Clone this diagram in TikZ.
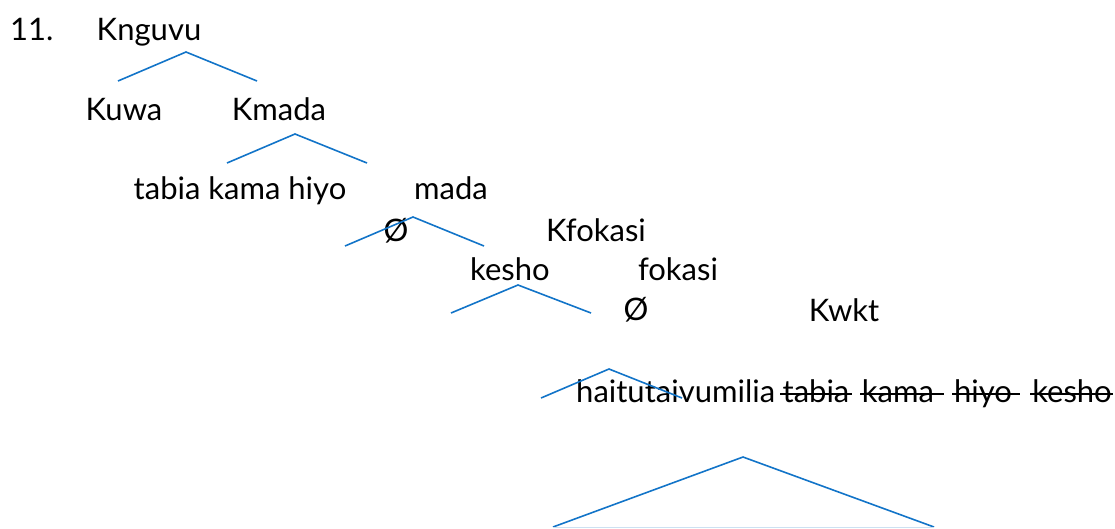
\documentclass[tikz,border=0pt]{standalone}
\usepackage{fontspec}
\setmainfont{Lato}
\definecolor{treeblue}{RGB}{18,116,200}
\definecolor{faintblue}{RGB}{205,225,242}
\begin{document}
\begin{tikzpicture}[x=1pt,y=-1pt,
  lbl/.style={inner sep=0pt,anchor=base,font=\fontsize{31}{35}\selectfont},
  branch/.style={draw=treeblue,line width=1.6pt,line join=miter},
  strike/.style={draw=black,line width=1.5pt}]
\useasboundingbox (0,0) rectangle (1115,528);
% labels
\node[lbl,anchor=base west] (num) at (10,40) {11.};
\node[lbl] (knguvu) at (149,40) {Knguvu};
\node[lbl] (kuwa) at (124,120) {Kuwa};
\node[lbl] (kmada) at (279,120) {Kmada};
\node[lbl] (tabia) at (240,199) {tabia kama hiyo};
\node[lbl] (mada) at (451,199) {mada};
\node[lbl] (null1) at (396,241) {Ø};
\node[lbl] (kfokasi) at (596,241) {Kfokasi};
\node[lbl] (kesho) at (510,280) {kesho};
\node[lbl] (fokasi) at (678,280) {fokasi};
\node[lbl] (null2) at (636,320) {Ø};
\node[lbl] (kwkt) at (844,321) {Kwkt};
\node[lbl,anchor=base west] (hai) at (576,402) {haitutaivumilia};
\node[lbl] (w1) at (816,402) {tabia};
\node[lbl] (w2) at (898,402) {kama};
\node[lbl] (w3) at (983,402) {hiyo};
\node[lbl] (w4) at (1072,402) {kesho};
% strike-through lines
\coordinate (s1a) at (780,394); \coordinate (s1b) at (852,394);
\coordinate (s2a) at (860,394); \coordinate (s2b) at (944,394);
\coordinate (s3a) at (952,394); \coordinate (s3b) at (1020,394);
\coordinate (s4a) at (1030,394); \coordinate (s4b) at (1113,394);
\draw[strike] (s1a) -- (s1b);
\draw[strike] (s2a) -- (s2b);
\draw[strike] (s3a) -- (s3b);
\draw[strike] (s4a) -- (s4b);
% branches
\coordinate (t1l) at (118,81); \coordinate (t1a) at (186,52); \coordinate (t1r) at (257,81);
\coordinate (t2l) at (227,163); \coordinate (t2a) at (295,134); \coordinate (t2r) at (367,163);
\coordinate (t3l) at (345,246); \coordinate (t3a) at (413,217); \coordinate (t3r) at (484,246);
\coordinate (t4l) at (451,313); \coordinate (t4a) at (518,285); \coordinate (t4r) at (591,313);
\coordinate (t5l) at (541,398); \coordinate (t5a) at (609,369); \coordinate (t5r) at (682,398);
\coordinate (t6l) at (553,527); \coordinate (t6a) at (743,457); \coordinate (t6r) at (934,527);
\draw[branch] (t1l) -- (t1a) -- (t1r);
\draw[branch] (t2l) -- (t2a) -- (t2r);
\draw[branch] (t3l) -- (t3a) -- (t3r);
\draw[branch] (t4l) -- (t4a) -- (t4r);
\draw[branch] (t5l) -- (t5a) -- (t5r);
\draw[branch] (t6l) -- (t6a) -- (t6r);
\draw[draw=faintblue,line width=1pt] (t6l) -- (t6r);
\end{tikzpicture}
\end{document}
